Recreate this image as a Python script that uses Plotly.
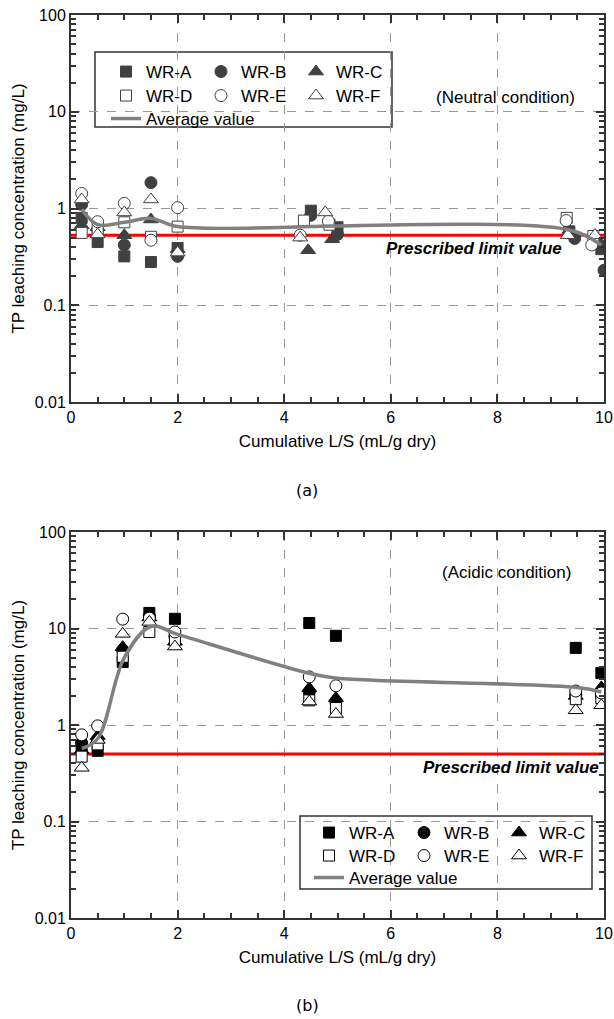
import math
import plotly.graph_objects as go
from plotly.subplots import make_subplots

SERIES = ["WR-A", "WR-B", "WR-C", "WR-D", "WR-E", "WR-F"]
SYMBOLS = ["square", "circle", "triangle-up", "square", "circle", "triangle-up"]
FILLED = [True, True, True, False, False, False]

# Panel (a): neutral condition
A_X = {
    "WR-A": [0.2, 0.5, 1.0, 1.5, 2.0, 4.5, 5.0, 9.35, 9.95],
    "WR-B": [0.2, 0.5, 1.0, 1.5, 2.0, 4.5, 5.0, 9.45, 10.0],
    "WR-C": [0.2, 0.5, 1.0, 1.5, 2.0, 4.45, 4.9, 9.35, 9.92],
    "WR-D": [0.2, 0.5, 1.0, 1.5, 2.0, 4.37, 4.85, 9.3, 9.8],
    "WR-E": [0.2, 0.5, 1.0, 1.5, 2.0, 4.3, 4.83, 9.29, 9.77],
    "WR-F": [0.2, 0.5, 1.0, 1.5, 2.0, 4.3, 4.77, 9.32, 9.83],
}
A_Y = {
    "WR-A": [0.80, 0.45, 0.32, 0.28, 0.39, 0.95, 0.64, 0.58, 0.38],
    "WR-B": [1.10, 0.60, 0.42, 1.85, 0.32, 0.85, 0.54, 0.49, 0.23],
    "WR-C": [0.67, 0.64, 0.53, 0.77, 0.38, 0.37, 0.48, 0.60, 0.45],
    "WR-D": [0.56, 0.60, 0.72, 0.51, 0.65, 0.75, 0.68, 0.80, 0.52],
    "WR-E": [1.43, 0.73, 1.13, 0.47, 1.02, 0.53, 0.74, 0.75, 0.42],
    "WR-F": [1.24, 0.54, 0.91, 1.24, 0.35, 0.50, 0.91, 0.53, 0.53],
}
A_AVG_X = [0.2, 0.5, 1.0, 1.5, 2.0, 4.5, 4.9, 9.35, 9.95]
A_AVG_Y = [0.98, 0.68, 0.72, 0.79, 0.65, 0.65, 0.66, 0.60, 0.42]
A_LIMIT = 0.53

# Panel (b): acidic condition
B_X = [0.2, 0.5, 0.97, 1.47, 1.95, 4.47, 4.97, 9.47, 9.95]
B_Y = {
    "WR-A": [0.60, 0.54, 4.5, 14.5, 12.6, 11.4, 8.4, 6.3, 3.45],
    "WR-B": [0.65, 0.68, 6.0, 13.5, 8.3, 2.2, 1.75, 2.05, 2.0],
    "WR-C": [0.55, 0.77, 6.4, 13.0, 7.3, 2.4, 1.9, 2.0, 2.45],
    "WR-D": [0.47, 0.63, 5.1, 9.2, 7.6, 1.8, 1.5, 1.85, 1.9],
    "WR-E": [0.79, 0.98, 12.5, 12.8, 9.2, 3.15, 2.55, 2.25, 2.15],
    "WR-F": [0.36, 0.70, 8.8, 11.7, 6.5, 1.75, 1.3, 1.42, 1.6],
}
B_AVG_X = [0.2, 0.5, 1.0, 1.5, 2.0, 4.5, 5.0, 9.5, 9.95]
B_AVG_Y = [0.57, 0.72, 5.0, 10.5, 8.7, 3.4, 3.05, 2.45, 2.2]
B_LIMIT = 0.5

X_RANGE = [0, 10]
Y_TICKS = [0.01, 0.1, 1, 10, 100]
Y_TICKTEXT = ["0.01", "0.1", "1", "10", "100"]
X_TICKS = [0, 2, 4, 6, 8, 10]

FONT = "Liberation Sans, Arial, sans-serif"
W, H = 614, 1019
ML, MR, MT, MB = 71, 10, 15, 101
PW, PH = W - ML - MR, H - MT - MB


def px2paper_x(px):
    return (px - ML) / PW


def py2paper_y(py):
    return (H - MB - py) / PH


fig = make_subplots(rows=2, cols=1, vertical_spacing=0.1)

MARKER_SIZE = {"square": 11, "circle": 12, "triangle-up": 13}


def add_panel(row, xs_by_series, ys_by_series, avg_x, avg_y, limit, fillcol, legs):
    fig.add_trace(go.Scatter(x=X_RANGE, y=[limit, limit], mode="lines",
                             line=dict(color="#ff0000", width=3), showlegend=False,
                             hoverinfo="skip"), row=row, col=1)
    for i, s in enumerate(SERIES):
        xs = xs_by_series[s] if isinstance(xs_by_series, dict) else xs_by_series
        filled = FILLED[i]
        fig.add_trace(go.Scatter(
            x=xs, y=ys_by_series[s], mode="markers", name=s,
            marker=dict(symbol=SYMBOLS[i], size=MARKER_SIZE[SYMBOLS[i]],
                        color=fillcol if filled else "white",
                        line=dict(color=fillcol, width=1)),
            legend=legs[0] if i < 3 else legs[1],
        ), row=row, col=1)
    fig.add_trace(go.Scatter(x=avg_x, y=avg_y, mode="lines", name="Average value",
                             line=dict(color="#808080", width=3.5, shape="spline", smoothing=1.0),
                             legend=legs[2]), row=row, col=1)


add_panel(1, A_X, A_Y, A_AVG_X, A_AVG_Y, A_LIMIT, "#404040", ["legend", "legend2", "legend3"])
add_panel(2, B_X, B_Y, B_AVG_X, B_AVG_Y, B_LIMIT, "#000000", ["legend4", "legend5", "legend6"])

axcommon = dict(showline=True, linecolor="#333333", linewidth=2, mirror="ticks",
                ticks="inside", ticklen=8, tickwidth=1.5, tickcolor="#333333",
                showgrid=True, gridcolor="#999999", griddash="dash", gridwidth=1,
                zeroline=False, tickfont=dict(family=FONT, size=16, color="black"))

for r in (1, 2):
    fig.update_xaxes(range=X_RANGE, tickvals=X_TICKS,
                     minor=dict(ticks="inside", ticklen=5, dtick=0.5, tickcolor="#333333", showgrid=False),
                     title=dict(text="Cumulative L/S (mL/g dry)", font=dict(family=FONT, size=17, color="black"), standoff=10),
                     row=r, col=1, **axcommon)
    fig.update_yaxes(type="log", range=[-2, 2], tickvals=Y_TICKS, ticktext=Y_TICKTEXT,
                     minor=dict(ticks="inside", ticklen=5, dtick="D1", tickcolor="#333333", showgrid=False),
                     title=dict(text="TP leaching concentration (mg/L)", font=dict(family=FONT, size=17, color="black"), standoff=6),
                     row=r, col=1, **axcommon)

fig.update_layout(
    width=W, height=H,
    margin=dict(l=ML, r=MR, t=MT, b=MB, autoexpand=False),
    plot_bgcolor="white", paper_bgcolor="white",
    font=dict(family=FONT, size=17, color="black"),
    yaxis=dict(domain=[py2paper_y(402), 1]),
    yaxis2=dict(domain=[0, py2paper_y(532)]),
)


def leg(xpx, ypx, ew=50):
    return dict(orientation="h", xref="paper", yref="paper",
                x=px2paper_x(xpx), y=py2paper_y(ypx), xanchor="left", yanchor="middle",
                entrywidth=ew, bgcolor="rgba(0,0,0,0)", borderwidth=0,
                font=dict(family=FONT, size=17, color="black"), itemwidth=30,
                tracegroupgap=0)


fig.update_layout(
    legend=leg(106, 72), legend2=leg(106, 96), legend3=leg(106, 119, 150),
    legend4=leg(309, 833), legend5=leg(309, 856), legend6=leg(309, 878, 150),
)

# legend boxes
fig.add_shape(type="rect", xref="paper", yref="paper",
              x0=px2paper_x(95), x1=px2paper_x(392), y0=py2paper_y(127), y1=py2paper_y(52),
              line=dict(color="#333333", width=1.5), fillcolor="white", layer="below")
fig.add_shape(type="rect", xref="paper", yref="paper",
              x0=px2paper_x(300), x1=px2paper_x(592), y0=py2paper_y(889), y1=py2paper_y(816),
              line=dict(color="#333333", width=1.5), fillcolor="white", layer="below")


def note(text, xpx, ypx, size=17, family=FONT, yref="paper", yval=None, xanchor="center",
         yanchor="middle", yshift=0):
    fig.add_annotation(text=text, xref="paper", yref=yref, x=px2paper_x(xpx),
                       y=py2paper_y(ypx) if yval is None else yval,
                       xanchor=xanchor, yanchor=yanchor, yshift=yshift, showarrow=False,
                       font=dict(family=family, size=size, color="black"))


note("(Neutral condition)", 505, 97)
note("(Acidic condition)", 506, 572)
note("<b><i>Prescribed limit value</i></b>", 564, 0, yref="y", yval=math.log10(A_LIMIT),
     xanchor="right", yanchor="top", yshift=-2)
note("<b><i>Prescribed limit value</i></b>", 601, 0, yref="y2", yval=math.log10(B_LIMIT),
     xanchor="right", yanchor="top", yshift=-2)
note("(a)", 307, 490, size=16, family="DejaVu Sans")
note("(b)", 307, 1005, size=16, family="DejaVu Sans")

fig.write_html("out.html", config={"displayModeBar": False},
               post_script="document.body.style.margin='0';document.body.style.padding='0';")
